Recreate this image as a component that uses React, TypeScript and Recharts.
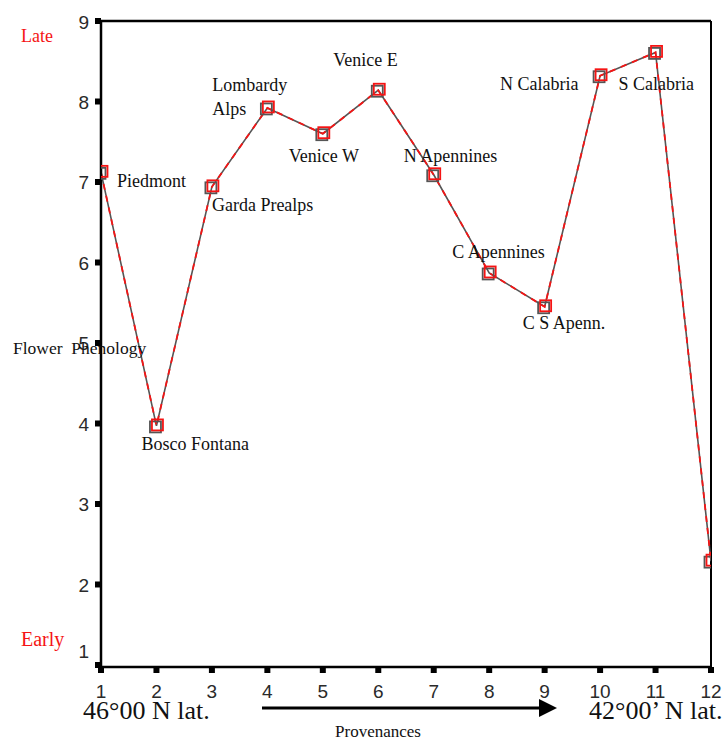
import React from 'react';
import {
  LineChart,
  Line,
  XAxis,
  YAxis,
  ReferenceLine,
  LabelList,
} from 'recharts';

// Provenance index (north → south) and mean flower phenology score
const provenances = [1, 2, 3, 4, 5, 6, 7, 8, 9, 10, 11, 12];
const phenology = [7.12, 3.97, 6.94, 7.92, 7.6, 8.14, 7.09, 5.87, 5.45, 8.32, 8.61, 2.29];
const siteNames = [
  'Piedmont',
  'Bosco Fontana',
  'Garda Prealps',
  'Lombardy\nAlps',
  'Venice W',
  'Venice E',
  'N Apennines',
  'C Apennines',
  'C S Apenn.',
  'N Calabria',
  'S Calabria',
  '',
];
const yTicks = [1, 2, 3, 4, 5, 6, 7, 8, 9];

const data = provenances.map((p, i) => ({ p, v: phenology[i], name: siteNames[i] }));

// where each site name sits relative to its marker
const labelOffset: Record<string, [number, number]> = {
  Piedmont: [16, 9],
  'Bosco Fontana': [-15, 18],
  'Garda Prealps': [0, 18],
  'Lombardy\nAlps': [-55, -23],
  'Venice W': [-34, 22],
  'Venice E': [-45, -30],
  'N Apennines': [-30, -19],
  'C Apennines': [-37, -21],
  'C S Apenn.': [-22, 16],
  'N Calabria': [-100, 8],
  'S Calabria': [-37, 32],
};

const SERIF = '"Liberation Serif", "Times New Roman", serif';
const SANS = '"Liberation Sans", Arial, sans-serif';
const RED = '#f51414';

const SquareDot = (props: any) => {
  const { cx, cy } = props;
  if (cx == null || cy == null) return null;
  const s = 11;
  return (
    <g>
      <rect x={cx - s / 2 - 1} y={cy - s / 2 + 1} width={s} height={s} fill="none" stroke="#555" strokeWidth={1.8} />
      <rect x={cx - s / 2 + 1} y={cy - s / 2 - 1} width={s} height={s} fill="none" stroke={RED} strokeWidth={1.8} />
    </g>
  );
};

const SiteLabel = (props: any) => {
  const { x, y, value } = props;
  if (!value) return null;
  const off = labelOffset[value] || [0, 0];
  const lines = String(value).split('\n');
  return (
    <text
      x={x + off[0]}
      y={y + off[1]}
      fontFamily={SERIF}
      fontSize={18}
      fill="#111"
      dominantBaseline="central"
    >
      {lines.map((ln, i) => (
        <tspan key={i} x={x + off[0]} dy={i === 0 ? 0 : 24}>
          {ln}
        </tspan>
      ))}
    </text>
  );
};

const YTick = (props: any) => {
  const { x, y, payload } = props;
  const lift = payload.value === 1 ? -13 : 1;
  return (
    <text x={x - 4} y={y + lift} textAnchor="end" dominantBaseline="central" fontFamily={SANS} fontSize={19} fill="#2a2a2a">
      {payload.value}
    </text>
  );
};

const XTick = (props: any) => {
  const { x, y, payload } = props;
  return (
    <text x={x} y={y + 16} textAnchor="middle" dominantBaseline="central" fontFamily={SANS} fontSize={19} fill="#2a2a2a">
      {payload.value}
    </text>
  );
};

export default function App() {
  const W = 726;
  const H = 740;
  return (
    <div style={{ position: 'absolute', left: 0, top: 0, width: W, height: H, background: '#fff' }}>
      <LineChart width={W} height={H} data={data} margin={{ top: 21, right: 15, bottom: 53, left: 0 }}>
        <XAxis
          dataKey="p"
          type="number"
          domain={[1, 12]}
          ticks={provenances}
          height={20}
          axisLine={{ stroke: '#000', strokeWidth: 2.5 }}
          tickLine={{ stroke: '#000', strokeWidth: 6 }}
          tickSize={6}
          tick={<XTick />}
          allowDataOverflow
        />
        <YAxis
          type="number"
          domain={[0.975, 9]}
          ticks={yTicks}
          width={101}
          axisLine={{ stroke: '#000', strokeWidth: 2.5 }}
          tickLine={{ stroke: '#000', strokeWidth: 6 }}
          tickSize={6}
          tick={<YTick />}
          allowDataOverflow
        />
        <ReferenceLine y={9} stroke="#000" strokeWidth={2.5} />
        <ReferenceLine x={12} stroke="#000" strokeWidth={2} />
        <Line
          dataKey="v"
          stroke="#555"
          strokeWidth={1.6}
          dot={false}
          isAnimationActive={false}
        />
        <Line
          dataKey="v"
          stroke={RED}
          strokeWidth={1.8}
          strokeDasharray="6 6"
          dot={<SquareDot />}
          isAnimationActive={false}
        >
          <LabelList dataKey="name" content={<SiteLabel />} />
        </Line>
      </LineChart>

      <svg width={W} height={H} style={{ position: 'absolute', left: 0, top: 0, pointerEvents: 'none' }}>
        <text x={21} y={36} fontFamily={SERIF} fontSize={18} fill={RED} dominantBaseline="central">
          Late
        </text>
        <text x={21} y={639} fontFamily={SERIF} fontSize={20} fill={RED} dominantBaseline="central">
          Early
        </text>
        <text x={13} y={348} fontFamily={SERIF} fontSize={17.5} fill="#111" dominantBaseline="central" xmlSpace="preserve">
          Flower  Phenology
        </text>
        <text x={83} y={710} fontFamily={SERIF} fontSize={26} fill="#111" dominantBaseline="central">
          46°00 N lat.
        </text>
        <text x={589} y={710} fontFamily={SERIF} fontSize={26} fill="#111" dominantBaseline="central">
          42°00’ N lat.
        </text>
        <line x1={262} y1={708} x2={542} y2={708} stroke="#000" strokeWidth={3} />
        <polygon points="539,699 557,708 539,717" fill="#000" />
        <text x={378} y={731} fontFamily={SERIF} fontSize={17} fill="#111" textAnchor="middle" dominantBaseline="central">
          Provenances
        </text>
      </svg>
    </div>
  );
}
